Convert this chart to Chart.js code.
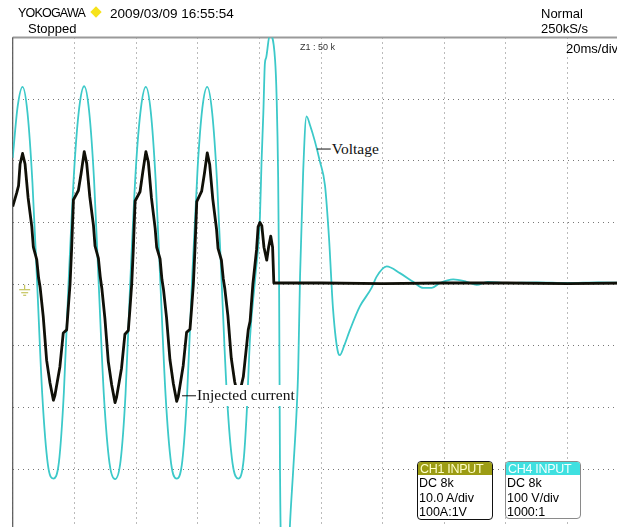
<!DOCTYPE html>
<html>
<head>
<meta charset="utf-8">
<script src="https://cdn.jsdelivr.net/npm/chart.js@4.4.0/dist/chart.umd.min.js"></script>
<style>
html,body{margin:0;padding:0;background:#fff;overflow:hidden;width:617px;height:527px;position:relative;}
#wrap{position:absolute;left:0;top:0;width:640px;height:545px;}
.t{position:absolute;white-space:nowrap;font-family:"Liberation Sans",Arial,sans-serif;color:#000;line-height:1;}
.ann{position:absolute;white-space:nowrap;font-family:"Liberation Serif","Times New Roman",serif;font-size:15.5px;color:#111;background:#fff;line-height:1;padding:2px 1px 3px 1px;}
.box{position:absolute;background:#fff;border-radius:4px;overflow:hidden;font-family:"Liberation Sans",Arial,sans-serif;font-size:12.5px;line-height:14.6px;color:#000;}
.box .hd{height:13px;line-height:14px;padding-left:2px;font-size:12.5px;letter-spacing:-0.3px;}
.box .bd{padding-left:1px;padding-top:1px;}
#diamond{position:absolute;left:92px;top:8px;width:8px;height:8px;background:#f6e21a;transform:rotate(45deg);}
</style>
</head>
<body>
<div id="wrap"><canvas id="c" width="640" height="545"></canvas></div>

<div class="t" style="left:18px;top:7px;font-size:12.5px;letter-spacing:-0.8px;">YOKOGAWA</div>
<div id="diamond"></div>
<div class="t" style="left:110px;top:7px;font-size:13.5px;">2009/03/09 16:55:54</div>
<div class="t" style="left:28px;top:22px;font-size:13px;">Stopped</div>
<div class="t" style="left:541px;top:7px;font-size:13px;">Normal</div>
<div class="t" style="left:541px;top:22px;font-size:13px;">250kS/s</div>
<div class="t" style="left:566px;top:42px;font-size:13px;">20ms/div</div>
<div class="t" style="left:300px;top:43px;font-size:9px;color:#333;">Z1 : 50 k</div>

<div class="box" style="left:417px;top:461px;width:74px;height:57px;border:1.5px solid #111;">
  <div class="hd" style="background:#9c9c14;color:#ffffc8;">CH1 INPUT</div>
  <div class="bd">DC 8k<br>10.0 A/div<br>100A:1V</div>
</div>
<div class="box" style="left:505px;top:461px;width:74px;height:56px;border:1px solid #8a8a8a;">
  <div class="hd" style="background:#3fe0e0;color:#f4ffff;">CH4 INPUT</div>
  <div class="bd">DC 8k<br>100 V/div<br>1000:1</div>
</div>

<div class="ann" id="annV">Voltage</div>
<div class="ann" id="annI">Injected current</div>

<script>
// ---- data (time in ms, 20 ms/div; voltage in V, 100 V/div; current in A, 10 A/div) ----
const voltageTime = [0,1.6,3.2,4.8,6.4,7.9,9.6,11.4,13.2,15.0,16.6,18.1,
  20,21.6,23.2,24.8,26.4,27.9,29.6,31.4,33.2,35.0,36.6,38.1,
  40,41.6,43.2,44.8,46.4,47.9,49.6,51.4,53.2,55.0,56.6,58.1,
  60,61.5,63.1,64.7,66.3,67.8,69.5,71.3,73.2,74.9,75.9,77.0,78.6,80.2,80.7,81.3,81.8,82.2,83.4,85.1,85.6,86.1,86.4,86.7,87.5,88.5,89.3,89.9,91.0,92.1,92.6,93.2,94.2,95.3,96.5,98.0,99.6,101.3,102.6,103.9,105.6,106.1,107.5,109.4,112.6,116.4,118.0,121.3,125.6,129.9,133.2,135.9,138.6,142.9,147.2,150.5,154.1,160,170,180,190,200];
const voltageValues = [205,288,320,278,165,5,-180,-292,-315,-288,-175,0,
  190,287,321,280,168,0,-182,-290,-316,-286,-178,0,
  192,286,320,279,166,2,-181,-291,-315,-287,-176,-2,
  190,285,320,278,165,0,-182,-290,-315,-285,-209,-85,7,110,196,278,358,367,405,364,304,174,7,-300,-520,-560,-470,-393,-300,-204,-139,12,180,272,257,232,200,160,75,-40,-112,-115,-100,-74,-36,-6,12,29,18,4,-6,-6,2,8,4,-1,4,2,3,2,3,2];

const currentTime = [0,1.3,1.9,2.4,3.2,4.0,5.0,6.2,6.7,7.8,8.4,8.9,9.9,11.0,12.1,13.2,13.7,15.3,16.4,17.5,18.0,18.6,19.1,19.7,21.3,22.2,23.2,
  24.0,25.0,26.2,26.7,27.8,28.4,28.9,29.9,31.0,32.1,33.2,33.7,35.3,36.4,37.5,38.0,38.6,39.1,39.7,41.3,42.2,43.2,
  44.0,45.0,46.2,46.7,47.8,48.4,48.9,49.9,51.0,52.1,53.2,53.7,55.3,56.4,57.5,58.0,58.6,59.1,59.7,61.3,62.2,63.1,
  63.9,64.9,66.1,66.6,67.7,68.3,68.8,69.8,70.9,72.0,73.1,73.6,74.8,76.4,77.0,77.9,79.1,79.6,80.2,80.8,81.5,82.4,83.0,83.7,84.3,84.7,85.2,100,120,140,160,180,200];
const currentValues = [12.6,14.8,16,19.5,21.2,19.5,14,9.3,6,4,1,-0.5,-5.2,-12.3,-16,-18.8,-18,-13.4,-7.9,-7.4,-4,0,5.6,13.7,15.2,18,21.5,
  19.6,14.2,9.5,6.2,4.2,1.2,-0.6,-5.5,-12.5,-16.3,-19.2,-18.3,-13.6,-8.1,-7.5,-4.2,0,5.4,13.5,15.0,18.2,21.5,
  19.8,14.0,9.1,6.0,4.1,0.8,-0.8,-5.4,-12.2,-16.1,-19.0,-18.2,-13.2,-7.8,-7.3,-4.1,0,5.5,13.4,15.1,18.0,21.3,
  19.4,13.8,9.0,5.8,3.9,0.9,-0.7,-5.1,-12.0,-15.8,-18.2,-17.6,-15,-7.4,-6,0,5.6,9.3,10,9.5,6,3.9,6,7.8,6,0.2,0.2,0.2,0.1,0.2,0.2,0.1,0.2];

const xTicks = [0,20,40,60,80,100,120,140,160,180,200];
const currentTicks = [-40,-30,-20,-10,0,10,20,30,40];

const annotations = [
  {id:'annV', t:98.3, value:220, axis:'yV'},
  {id:'annI', t:54.6, value:-18.0, axis:'yI'}
];

const toXY = (ts, vs) => ts.map((t, i) => ({x: t, y: vs[i]}));

const framePlugin = {
  id: 'frame',
  beforeDatasetsDraw(chart) {
    const {ctx, chartArea: a} = chart;
    ctx.save();
    ctx.strokeStyle = '#9a9a9a';
    ctx.lineWidth = 2;
    ctx.beginPath(); ctx.moveTo(a.left, a.top); ctx.lineTo(chart.width, a.top); ctx.stroke();
    ctx.strokeStyle = '#555';
    ctx.lineWidth = 1.2;
    ctx.beginPath(); ctx.moveTo(a.left, a.top); ctx.lineTo(a.left, a.bottom); ctx.stroke();
    const y0 = chart.scales.yI.getPixelForValue(0);
    const gx = a.left + 12;
    ctx.strokeStyle = '#b9b83c';
    ctx.lineWidth = 1;
    ctx.beginPath();
    ctx.moveTo(gx, y0 + 0.5); ctx.lineTo(gx, y0 + 5);
    ctx.moveTo(gx - 5.5, y0 + 5.5); ctx.lineTo(gx + 5.5, y0 + 5.5);
    ctx.moveTo(gx - 3.5, y0 + 8.5); ctx.lineTo(gx + 3.5, y0 + 8.5);
    ctx.moveTo(gx - 1.5, y0 + 11); ctx.lineTo(gx + 1.5, y0 + 11);
    ctx.stroke();
    ctx.restore();
  },
  afterDraw(chart) {
    const {ctx} = chart;
    ctx.save();
    ctx.strokeStyle = '#111';
    ctx.lineWidth = 1;
    annotations.forEach(an => {
      const px = chart.scales.x.getPixelForValue(an.t);
      const py = chart.scales[an.axis].getPixelForValue(an.value);
      ctx.beginPath(); ctx.moveTo(px + 1, py + 0.5); ctx.lineTo(px + 15, py + 0.5); ctx.stroke();
      const el = document.getElementById(an.id);
      el.style.left = (px + 15) + 'px';
      el.style.top = (py - 10) + 'px';
    });
    ctx.restore();
  }
};

new Chart(document.getElementById('c'), {
  type: 'line',
  data: {
    datasets: [
      {
        label: 'Injected current',
        data: toXY(currentTime, currentValues),
        yAxisID: 'yI',
        borderColor: '#101008',
        borderWidth: 2.8,
        pointRadius: 0,
        tension: 0,
        borderJoinStyle: 'round'
      },
      {
        label: 'Voltage',
        data: toXY(voltageTime, voltageValues),
        yAxisID: 'yV',
        borderColor: '#3cc9c9',
        borderWidth: 1.8,
        pointRadius: 0,
        cubicInterpolationMode: 'monotone'
      }
    ]
  },
  options: {
    responsive: false,
    animation: false,
    devicePixelRatio: 1,
    layout: {padding: {left: 12.7, top: 37.5, right: 10.7, bottom: 14}},
    plugins: {legend: {display: false}, tooltip: {enabled: false}},
    scales: {
      x: {
        type: 'linear', min: 0, max: 200,
        afterBuildTicks: s => { s.ticks = xTicks.map(v => ({value: v})); },
        ticks: {display: false},
        grid: {color: '#777', lineWidth: 1, drawTicks: false},
        border: {display: false, dash: [1, 4]}
      },
      yI: {
        type: 'linear', position: 'left', min: -40, max: 40,
        afterBuildTicks: s => { s.ticks = currentTicks.map(v => ({value: v})); },
        ticks: {display: false},
        grid: {color: '#777', lineWidth: 1, drawTicks: false},
        border: {display: false, dash: [1, 4]}
      },
      yV: {
        type: 'linear', position: 'right', min: -400, max: 400,
        display: false
      }
    }
  },
  plugins: [framePlugin]
});
</script>
</body>
</html>
